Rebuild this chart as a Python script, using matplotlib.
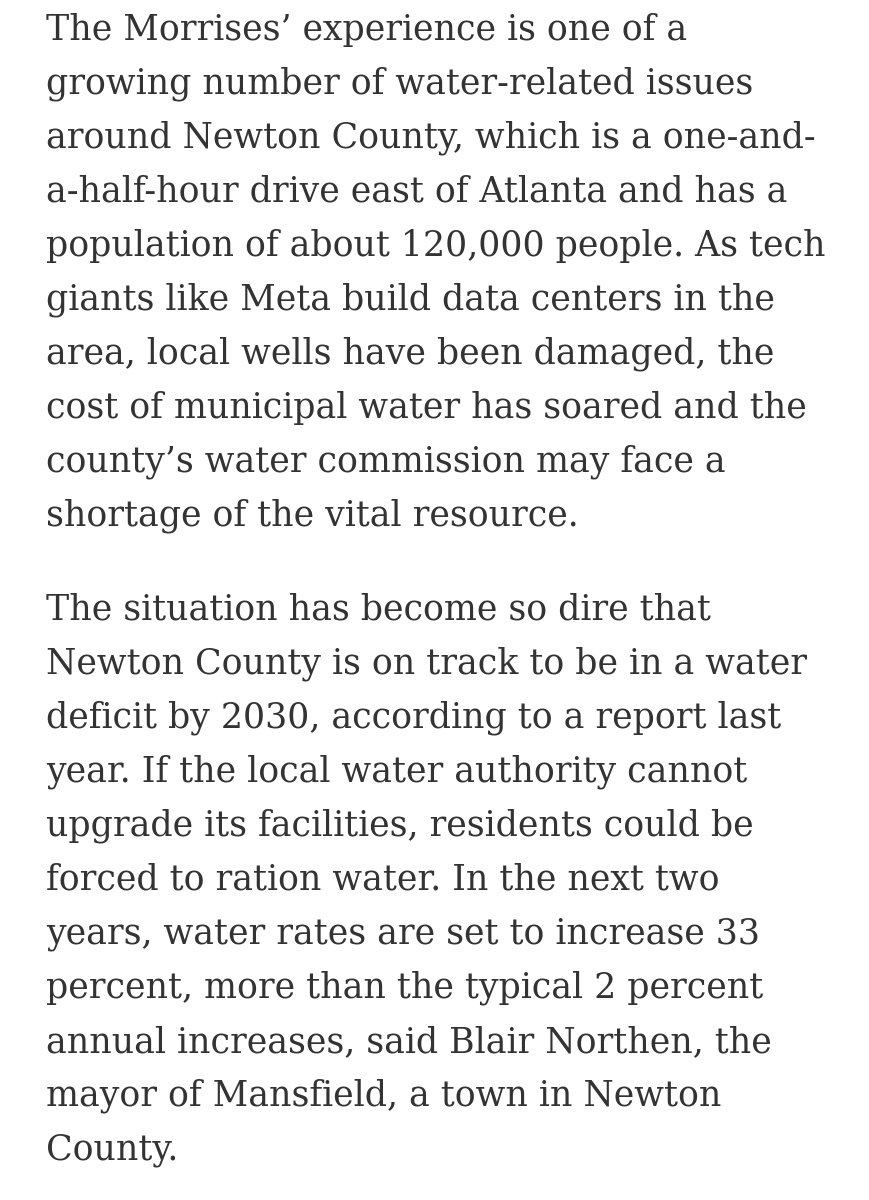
import matplotlib.pyplot as plt

para1 = [
    "The Morrises\u2019 experience is one of a",
    "growing number of water-related issues",
    "around Newton County, which is a one-and-",
    "a-half-hour drive east of Atlanta and has a",
    "population of about 120,000 people. As tech",
    "giants like Meta build data centers in the",
    "area, local wells have been damaged, the",
    "cost of municipal water has soared and the",
    "county\u2019s water commission may face a",
    "shortage of the vital resource.",
]
para2 = [
    "The situation has become so dire that",
    "Newton County is on track to be in a water",
    "deficit by 2030, according to a report last",
    "year. If the local water authority cannot",
    "upgrade its facilities, residents could be",
    "forced to ration water. In the next two",
    "years, water rates are set to increase 33",
    "percent, more than the typical 2 percent",
    "annual increases, said Blair Northen, the",
    "mayor of Mansfield, a town in Newton",
    "County.",
]

W, H = 869, 1200
fig = plt.figure(figsize=(W / 100, H / 100), dpi=100)
fig.patch.set_facecolor("white")

step = 54
for start, lines in [(30, para1), (610, para2)]:
    for i, s in enumerate(lines):
        y = start + i * step
        fig.text(46 / W, 1 - y / H, s, fontsize=25, family="DejaVu Serif",
                 color="#333333", va="center", ha="left")

fig.savefig("out.png", dpi=100, facecolor="white")
